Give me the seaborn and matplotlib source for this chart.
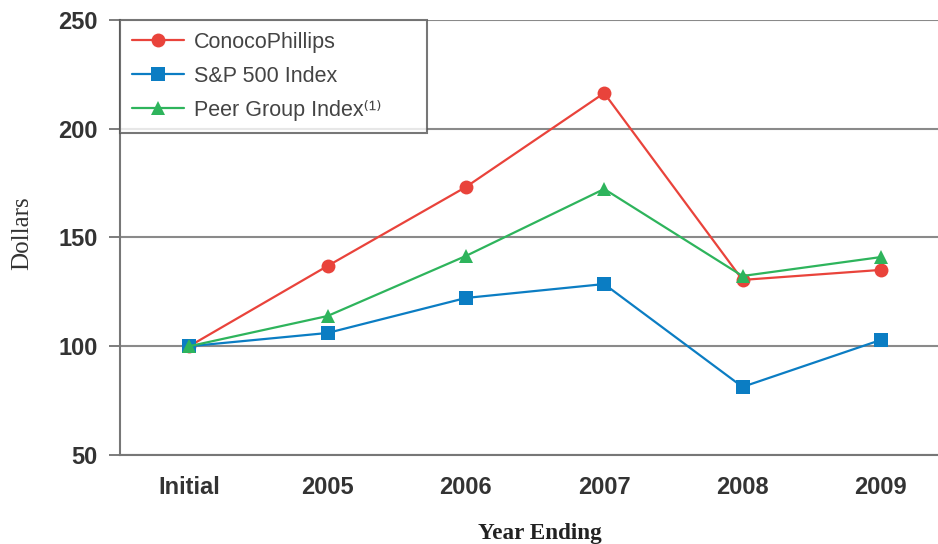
import numpy as np
import pandas as pd
import matplotlib
matplotlib.use("Agg")
import matplotlib.pyplot as plt
from matplotlib.ticker import FixedLocator
import seaborn as sns

# values
years = ["Initial", "2005", "2006", "2007", "2008", "2009"]
conoco = [100, 136.9, 173.2, 216.4, 130.5, 135.1]
sp500 = [100, 106.1, 122.2, 128.6, 81.3, 102.9]
peer = [100, 113.9, 141.5, 172.3, 132.3, 141.0]

series_names = ["ConocoPhillips", "S&P 500 Index", "Peer Group Index\u207d\u00b9\u207e"]
series_colors = ["#e9433b", "#0b7dc3", "#2eb45c"]
series_markers = ["o", "s", "^"]

sns.set_style("white")
plt.rcParams["font.family"] = ["Liberation Sans", "DejaVu Sans"]

fig = plt.figure(figsize=(9.38, 5.44), dpi=100)
ax = fig.add_axes([120 / 938, 1 - 455 / 544, (950 - 120) / 938, 435 / 544])

x = np.arange(len(years))
for vals, name, col, mk in zip([conoco, sp500, peer], series_names, series_colors, series_markers):
    sns.lineplot(x=x, y=vals, ax=ax, color=col, marker=mk, markersize=10,
                 markeredgewidth=0, linewidth=1.6, label=name, sort=False)

ax.set_xlim(-0.5, 5.5)
ax.set_ylim(50, 250)
ax.set_yticks([50, 100, 150, 200, 250])
ax.yaxis.grid(True, color="#8a8a8a", linewidth=1.5)
ax.set_axisbelow(True)

ax.set_xticks(x)
ax.set_xticklabels(years)
ax.xaxis.set_minor_locator(FixedLocator(np.arange(-0.5, 5.6, 1)))
ax.tick_params(axis="x", which="major", length=0, pad=15, labelsize=17, labelcolor="#333333")
ax.tick_params(axis="x", which="minor", length=8, width=1.2, color="#666666", direction="out")
ax.tick_params(axis="y", length=8, width=1.2, color="#666666", pad=8, labelsize=17,
               labelcolor="#333333", left=True)
for lbl in ax.get_xticklabels() + ax.get_yticklabels():
    lbl.set_fontweight("bold")

for side in ["top", "right"]:
    ax.spines[side].set_visible(False)
for side in ["left", "bottom"]:
    ax.spines[side].set_color("#777777")
    ax.spines[side].set_linewidth(1.5)

fig.text(22 / 938, 1 - 233 / 544, "Dollars", rotation=90, ha="center", va="center",
         family=["Liberation Serif", "DejaVu Serif"], fontsize=18, color="#333333")
fig.text(540 / 938, 1 - 533 / 544, "Year Ending", ha="center", va="center",
         family=["Liberation Serif", "DejaVu Serif"], fontsize=16.7, fontweight="bold", color="#222222")

leg = ax.legend(loc="upper left", bbox_to_anchor=(0, 1, (427 - 120) / 830, 0), mode="expand",
                borderaxespad=0, fancybox=False, frameon=True, fontsize=15.5,
                handlelength=2.4, labelspacing=0.6, borderpad=0.55, handletextpad=0.5)
leg.get_frame().set_edgecolor("#555555")
leg.get_frame().set_linewidth(1.5)
for t in leg.get_texts():
    t.set_color("#444444")

fig.savefig("out.png", dpi=100)
